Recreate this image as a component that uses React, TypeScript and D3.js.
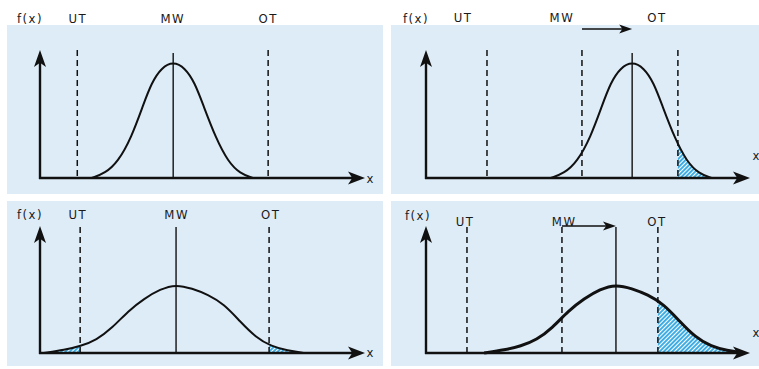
import React from 'react';
import * as d3 from 'd3';

// bell curve shapes: offset from the mean, height f(x)
const narrowOffsets = [-2.56, -2.14, -1.73, -1.31, -0.94, -0.68, -0.37, 0, 0.37, 0.68, 0.94, 1.34, 1.73, 2.1, 2.5];
const narrowDensity = [0, 0.036, 0.127, 0.317, 0.571, 0.743, 0.861, 0.91, 0.861, 0.743, 0.571, 0.31, 0.125, 0.035, 0];
const wideOffsets = [-4.15, -3.5, -3.0, -2.5, -2.0, -1.5, -1.0, -0.5, 0, 0.5, 1.0, 1.5, 2.0, 2.5, 3.0, 3.5, 4.0];
const wideDensity = [0, 0.024, 0.054, 0.102, 0.198, 0.332, 0.428, 0.503, 0.54, 0.508, 0.46, 0.385, 0.251, 0.123, 0.051, 0.019, 0];

// one entry per panel: top-left, top-right, bottom-left, bottom-right
const panelCurve = ['narrow', 'narrow', 'wide', 'wide'];
const panelMean = [-0.02, 2.29, 0.07, 1.78];
const panelOldMean: (number | null)[] = [null, 0.71, null, 0.08];
const panelUT = [-3.03, -2.28, -2.94, -2.91];
const panelOT = [2.96, 3.73, 2.99, 3.1];
const labelUT = [-3.01, -3.03, -3.01, -2.97];
const labelMW = [-0.03, 0.08, 0.09, 0.15];
const labelOT = [2.96, 3.07, 3.04, 3.07];

const xDomain = [-4.2, 6.0];
const yDomain = [0, 1];

// layout only (pixels)
const frames = [
  { x: 7, y: 25, w: 376, h: 169, x0: 40, x1: 365, base: 178, top: 50, meanTop: 53, tolTop: 50, lblY: 23, fxY: 23, fxX: 30, xLblX: 370, xLblY: 183, arrowY: 0, curveW: 2 },
  { x: 391, y: 25, w: 368, h: 169, x0: 426, x1: 750, base: 178, top: 50, meanTop: 53, tolTop: 50, lblY: 22, fxY: 23, fxX: 416, xLblX: 756, xLblY: 160, arrowY: 29, curveW: 2 },
  { x: 7, y: 201, w: 376, h: 165, x0: 40, x1: 365, base: 353, top: 226, meanTop: 227, tolTop: 227, lblY: 219, fxY: 219, fxX: 30, xLblX: 370, xLblY: 357, arrowY: 0, curveW: 2 },
  { x: 391, y: 201, w: 368, h: 165, x0: 426, x1: 750, base: 353, top: 226, meanTop: 227, tolTop: 227, lblY: 226, fxY: 220, fxX: 418, xLblX: 756, xLblY: 337, arrowY: 226, curveW: 3 },
];

const ink = '#111';
const font = '"DejaVu Sans Condensed", "DejaVu Sans", sans-serif';

function arrowUp(x: number, y: number, len: number, half: number) {
  return `M${x},${y}L${x - half},${y + len}L${x},${y + len * 0.75}L${x + half},${y + len}Z`;
}
function arrowRight(x: number, y: number, len: number, half: number) {
  return `M${x},${y}L${x - len},${y - half}L${x - len * 0.75},${y}L${x - len},${y + half}Z`;
}

const Panel = ({ i }: { i: number }) => {
  const f = frames[i];
  const xs = d3.scaleLinear().domain(xDomain).range([f.x0, f.x1]);
  const ys = d3.scaleLinear().domain(yDomain).range([f.base, f.top]);
  const offs = panelCurve[i] === 'narrow' ? narrowOffsets : wideOffsets;
  const dens = panelCurve[i] === 'narrow' ? narrowDensity : wideDensity;
  const pts: [number, number][] = offs.map((o, k) => [panelMean[i] + o, dens[k]]);

  const line = d3.line<[number, number]>().x(d => xs(d[0])).y(d => ys(d[1])).curve(d3.curveBasis);
  const area = d3.area<[number, number]>().x(d => xs(d[0])).y0(ys(0)).y1(d => ys(d[1])).curve(d3.curveBasis);

  const ut = xs(panelUT[i]);
  const ot = xs(panelOT[i]);
  const mean = xs(panelMean[i]);
  const old = panelOldMean[i];
  const textStyle = { fontFamily: font, fontSize: 13, letterSpacing: 1.5, fill: '#1a1a1a' } as const;

  return (
    <g>
      <rect x={f.x} y={f.y} width={f.w} height={f.h} fill="#deecf8" />
      <clipPath id={`out-${i}`}>
        <rect x={f.x} y={f.y} width={ut - f.x} height={f.h} />
        <rect x={ot} y={f.y} width={f.x + f.w - ot} height={f.h} />
      </clipPath>
      <path d={area(pts) || ''} fill="url(#hatch)" clipPath={`url(#out-${i})`} />
      <path d={line(pts) || ''} fill="none" stroke={ink} strokeWidth={f.curveW} />
      <line x1={mean} x2={mean} y1={f.meanTop} y2={f.base} stroke={ink} strokeWidth={1.4} />
      {[ut, ot, ...(old !== null ? [xs(old)] : [])].map((xv, k) => (
        <line key={k} x1={xv} x2={xv} y1={f.tolTop} y2={f.base} stroke={ink} strokeWidth={1.5} strokeDasharray="6,4" />
      ))}
      {old !== null && (
        <g>
          <line x1={xs(old)} x2={mean - 8} y1={f.arrowY} y2={f.arrowY} stroke={ink} strokeWidth={1.3} />
          <path d={arrowRight(mean, f.arrowY, 13, 4.5)} fill={ink} />
        </g>
      )}
      {/* axes */}
      <line x1={f.x0} x2={f.x0} y1={f.base + 1} y2={f.top + 10} stroke={ink} strokeWidth={2.4} />
      <path d={arrowUp(f.x0, f.top, 17, 6)} fill={ink} />
      <line x1={f.x0 - 1} x2={f.x1 - 10} y1={f.base} y2={f.base} stroke={ink} strokeWidth={2.4} />
      <path d={arrowRight(f.x1, f.base, 17, 6.5)} fill={ink} />
      {/* labels */}
      <text x={f.fxX} y={f.fxY} textAnchor="middle" style={textStyle}>f(x)</text>
      <text x={xs(labelUT[i])} y={f.lblY} textAnchor="middle" style={textStyle}>UT</text>
      <text x={xs(labelMW[i])} y={f.lblY} textAnchor="middle" style={textStyle}>MW</text>
      <text x={xs(labelOT[i])} y={f.lblY} textAnchor="middle" style={textStyle}>OT</text>
      <text x={f.xLblX} y={f.xLblY} textAnchor="middle" style={{ ...textStyle, letterSpacing: 0 }}>x</text>
    </g>
  );
};

export default function App() {
  return (
    <svg width={759} height={369} style={{ position: 'absolute', left: 0, top: 0, background: '#fff' }}>
      <defs>
        <pattern id="hatch" width={3} height={3} patternUnits="userSpaceOnUse" patternTransform="rotate(45)">
          <rect width={3} height={3} fill="#fff" />
          <line x1={1} x2={1} y1={0} y2={3} stroke="#1d9fe0" strokeWidth={1.7} />
        </pattern>
      </defs>
      {frames.map((_, i) => <Panel key={i} i={i} />)}
    </svg>
  );
}
